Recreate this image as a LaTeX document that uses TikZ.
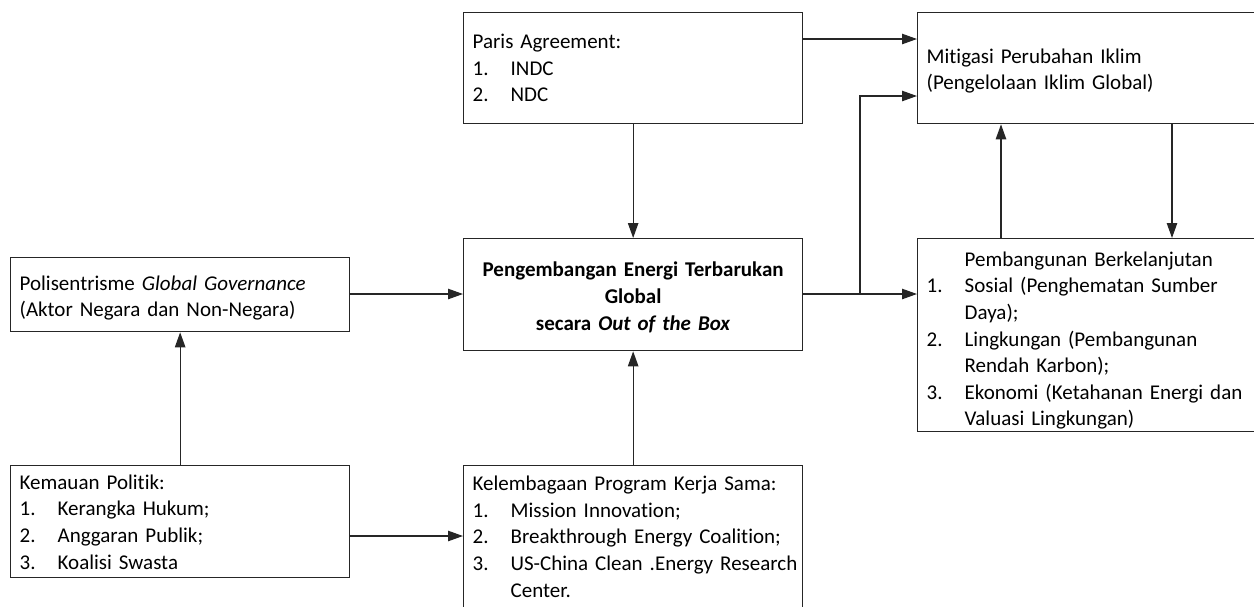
\documentclass[tikz,border=0pt]{standalone}
\usepackage{fontspec}
\setmainfont{Carlito}[Ligatures={NoCommon}]
\usetikzlibrary{arrows.meta}
\newcommand\li[2]{\mbox{\makebox[19pt][l]{#1}#2}}
\newcommand\lc[1]{\mbox{\hspace*{19pt}#1}}
\newcommand\up[1]{\raisebox{#1}{\vphantom{(}}}
\tikzset{
  box/.style={draw=black!85, line width=0.65pt, anchor=north west, inner xsep=4.5pt, inner ysep=0pt,
    text width=160.5pt, align=left, font=\fontsize{10.5}{13.3}\selectfont},
  arr/.style={draw=black!85, line width=0.65pt, -{Triangle[length=7.5pt,width=5.2pt]}},
  ln/.style={draw=black!85, line width=0.65pt}
}
\begin{document}
\begin{tikzpicture}[x=0.5pt,y=-0.5pt]
\useasboundingbox (0,0) rectangle (1254,606);
\node[box, minimum height=55.5pt] (paris) at (463,12) {\mbox{Paris Agreement:}\\\li{1.}{INDC}\\\li{2.}{NDC}};
\node[box, minimum height=55.5pt] (mitig) at (917,12) {\up{2.5pt}\mbox{Mitigasi Perubahan Iklim}\\\mbox{(Pengelolaan Iklim Global)}};
\node[box, minimum height=56pt, align=center, font=\fontsize{10.5}{13.6}\selectfont\bfseries] (central) at (463,238) {\up{2.5pt}\mbox{Pengembangan Energi Terbarukan}\\Global\\secara \textit{Out of the Box}};
\node[box, minimum height=96.5pt] (pemb) at (917,238) {\up{5pt}\lc{Pembangunan Berkelanjutan}\\\li{1.}{Sosial (Penghematan Sumber}\\\lc{Daya);}\\\li{2.}{Lingkungan (Pembangunan}\\\lc{Rendah Karbon);}\\\li{3.}{Ekonomi (Ketahanan Energi dan}\\\lc{Valuasi Lingkungan)}};
\node[box, minimum height=37pt] (polis) at (10,257) {\up{3pt}\mbox{Polisentrisme \textit{Global Governance}}\\\mbox{(Aktor Negara dan Non-Negara)}};
\node[box, minimum height=56pt] (kem) at (10,465) {\up{0pt}\mbox{Kemauan Politik:}\\\li{1.}{Kerangka Hukum;}\\\li{2.}{Anggaran Publik;}\\\li{3.}{Koalisi Swasta}};
\node[box, minimum height=71pt] (kel) at (463,465) {\mbox{Kelembagaan Program Kerja Sama:}\\\li{1.}{Mission Innovation;}\\\li{2.}{Breakthrough Energy Coalition;}\\\li{3.}{US-China Clean .Energy Research}\\\lc{Center.}};
\coordinate (br) at (860,294);
\draw[arr] (paris.east |- 0,39) -- (mitig.west |- 0,39);
\draw[arr] (paris.south) -- (central.north);
\draw[ln] (central.east |- br) -- (br);
\draw[arr] (br) -- (pemb.west |- br);
\draw[arr] (br) |- (mitig.west |- 0,96);
\draw[arr] (polis.east |- br) -- (central.west |- br);
\draw[arr] (kem.north) -- (polis.south);
\draw[arr] (kem.east |- 0,536) -- (kel.west |- 0,536);
\draw[arr] (kel.north) -- (central.south);
\draw[arr] (mitig.south -| 1172,0) -- (pemb.north -| 1172,0);
\draw[arr] (pemb.north -| 1001,0) -- (mitig.south -| 1001,0);
\end{tikzpicture}
\end{document}
